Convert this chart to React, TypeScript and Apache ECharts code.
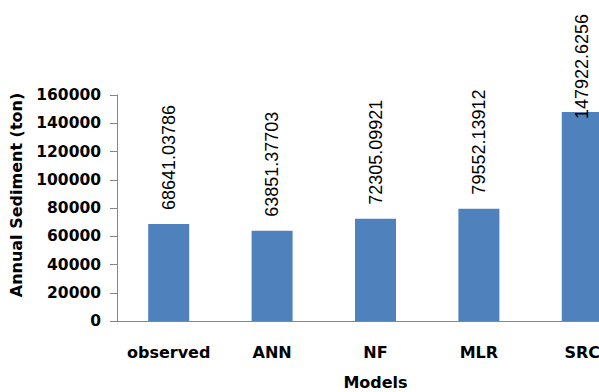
import React, { useEffect, useRef } from "react";
import * as echarts from "echarts";

// Annual sediment load estimated by each model (ton)
const models = ["observed", "ANN", "NF", "MLR", "SRC"];
const sediment = [68641.03786, 63851.37703, 72305.09921, 79552.13912, 147922.6256];
const valueLabels = ["68641.03786", "63851.37703", "72305.09921", "79552.13912", "147922.6256"];
const yTicks = { min: 0, max: 160000, interval: 20000 };

export default function App() {
  const ref = useRef<HTMLDivElement>(null);

  useEffect(() => {
    document.body.style.margin = "0";
    if (!ref.current) return;
    const chart = echarts.init(ref.current, undefined, { renderer: "svg" });
    const axisColor = "#868686";

    chart.setOption({
      animation: false,
      backgroundColor: "#ffffff",
      // the plot runs past the right edge of the view, so the SRC bar is cut off
      grid: {
        left: 117,
        top: 95,
        width: 517,
        height: 226,
        containLabel: false,
        outerBoundsMode: "none",
      },
      xAxis: {
        type: "category",
        data: models,
        name: "Models",
        nameLocation: "middle",
        nameGap: 53,
        nameTextStyle: { fontFamily: "DejaVu Sans", fontWeight: "bold", fontSize: 16, color: "#000" },
        axisLine: { lineStyle: { color: axisColor } },
        axisTick: { length: 6, lineStyle: { color: axisColor } },
        axisLabel: {
          interval: 0,
          margin: 23,
          fontFamily: "DejaVu Sans",
          fontWeight: "bold",
          fontSize: 16,
          color: "#000",
        },
      },
      yAxis: {
        type: "value",
        min: yTicks.min,
        max: yTicks.max,
        interval: yTicks.interval,
        name: "Annual Sediment (ton)",
        nameLocation: "middle",
        nameGap: 93,
        nameTextStyle: {
          fontFamily: "DejaVu Sans",
          fontWeight: "bold",
          fontSize: 16,
          color: "#000",
          padding: [0, 0, 0, 26],
        },
        splitLine: { show: false },
        axisLine: { show: true, lineStyle: { color: axisColor } },
        axisTick: { show: true, length: 7, lineStyle: { color: axisColor } },
        axisLabel: {
          margin: 16,
          fontFamily: "DejaVu Sans",
          fontWeight: "bold",
          fontSize: 15.5,
          color: "#000",
          formatter: (v: number) => String(v),
        },
      },
      series: [
        {
          type: "bar",
          barWidth: 41,
          itemStyle: { color: "#4F81BD" },
          data: sediment.map((v, i) => ({
            value: v,
            // the tallest bar's label is pulled down so it stays inside the chart
            label: i === sediment.length - 1 ? { distance: -7 } : undefined,
          })),
          label: {
            show: true,
            position: "top",
            distance: 14,
            rotate: 90,
            align: "left",
            verticalAlign: "middle",
            fontFamily: "Liberation Sans",
            fontSize: 18,
            color: "#000",
            formatter: (p: any) => valueLabels[p.dataIndex],
          },
        },
      ],
    });

    return () => chart.dispose();
  }, []);

  return <div ref={ref} style={{ width: 599, height: 392 }} />;
}
